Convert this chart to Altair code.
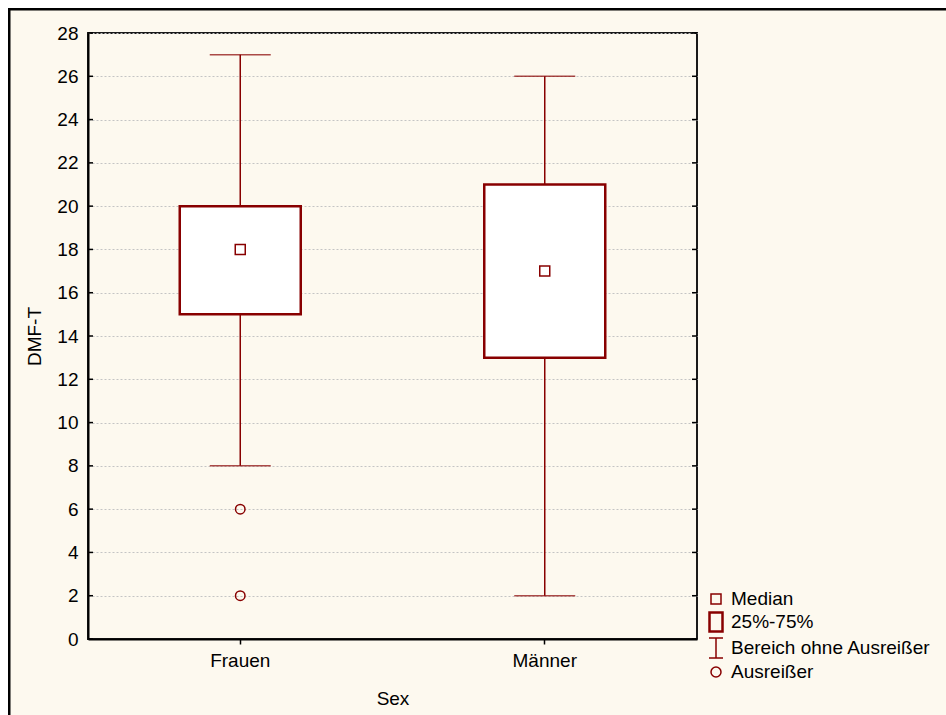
import altair as alt
import pandas as pd

# Box-plot summary per group
groups = ["Frauen", "Männer"]
whisker_low = [8, 2]
quartile_1 = [15, 13]
medians = [18, 17]
quartile_3 = [20, 21]
whisker_high = [27, 26]

# Outliers
outlier_group = ["Frauen", "Frauen"]
outlier_values = [6, 2]

# Axis ticks and legend entries
y_ticks = [0, 2, 4, 6, 8, 10, 12, 14, 16, 18, 20, 22, 24, 26, 28]
legend_labels = ["Median", "25%-75%", "Bereich ohne Ausreißer", "Ausreißer"]

RED = "#880000"
FONT = "Liberation Sans"
FS = 19
CREAM = "#FDF9EF"
W, H = 609, 606
PAD_L, PAD_T = 88, 33

stats = pd.DataFrame({
    "Sex": groups,
    "lo": whisker_low,
    "q1": quartile_1,
    "med": medians,
    "q3": quartile_3,
    "hi": whisker_high,
})
outliers = pd.DataFrame({"Sex": outlier_group, "v": outlier_values})
ticks = pd.DataFrame({"t": y_ticks})
legend_df = pd.DataFrame({"label": legend_labels})
one = pd.DataFrame({"k": [0]})

y_scale = alt.Scale(domain=[0, 28], nice=False, zero=False)
y_axis = alt.Axis(
    values=y_ticks, grid=True, gridColor="#c4c4c4", gridDash=[2, 2], gridWidth=1,
    ticks=False, domain=True, domainColor="black", domainWidth=2,
    labelFont=FONT, labelFontSize=FS, labelColor="black", labelPadding=10,
    titleFont=FONT, titleFontSize=FS, titleFontWeight="normal", titleColor="black",
    titlePadding=12,
)
x_scale = alt.Scale(domain=groups, paddingInner=0, paddingOuter=0)
x_axis = alt.Axis(
    labelAngle=0, ticks=True, tickSize=5, tickColor="black", tickWidth=1.5,
    domain=True, domainColor="black", domainWidth=2,
    labelFont=FONT, labelFontSize=FS, labelColor="black", labelPadding=7,
    titleFont=FONT, titleFontSize=FS, titleFontWeight="normal", titleColor="black",
    titlePadding=19,
)


def xe(field="Sex"):
    return alt.X(f"{field}:N", sort=groups, scale=x_scale, axis=x_axis, title="Sex")


def ye(field):
    return alt.Y(f"{field}:Q", scale=y_scale, axis=y_axis, title="DMF-T")


# Page frame: white margin strips and black border around the cream panel
frame_white_top = alt.Chart(one).mark_rect(fill="white", strokeWidth=0).encode(
    x=alt.value(-PAD_L - 20), x2=alt.value(2000),
    y=alt.value(-PAD_T - 20), y2=alt.value(9.25 - PAD_T),
)
frame_white_left = alt.Chart(one).mark_rect(fill="white", strokeWidth=0).encode(
    x=alt.value(-PAD_L - 20), x2=alt.value(9.25 - PAD_L),
    y=alt.value(-PAD_T - 20), y2=alt.value(2000),
)
frame_border = alt.Chart(one).mark_rect(fill="transparent", stroke="black", strokeWidth=2.5).encode(
    x=alt.value(9.25 - PAD_L), x2=alt.value(2000),
    y=alt.value(9.25 - PAD_T), y2=alt.value(2000),
)

whiskers = alt.Chart(stats).mark_rule(color=RED, strokeWidth=1.5).encode(
    x=xe(), y=ye("lo"), y2="hi:Q",
)
caps_low = alt.Chart(stats).mark_tick(color=RED, size=61, thickness=1.5, orient="horizontal").encode(
    x=xe(), y=ye("lo"),
)
caps_high = alt.Chart(stats).mark_tick(color=RED, size=61, thickness=1.5, orient="horizontal").encode(
    x=xe(), y=ye("hi"),
)
boxes = alt.Chart(stats).mark_bar(size=121, fill="white", stroke=RED, strokeWidth=2.5).encode(
    x=xe(), y=ye("q1"), y2="q3:Q",
)
median_pts = alt.Chart(stats).mark_point(shape="square", size=100, filled=False, color=RED,
                                          strokeWidth=1.5, opacity=1).encode(
    x=xe(), y=ye("med"),
)
outlier_pts = alt.Chart(outliers).mark_point(shape="circle", size=90, filled=False, color=RED,
                                              strokeWidth=1.5, opacity=1).encode(
    x=xe(), y=ye("v"),
)

# Inward ticks on the left and right frame edges
ticks_left = alt.Chart(ticks).mark_rule(color="black", strokeWidth=1.5).encode(
    y=ye("t"), x=alt.value(0), x2=alt.value(5),
)
ticks_right = alt.Chart(ticks).mark_rule(color="black", strokeWidth=1.5).encode(
    y=ye("t"), x=alt.value(W - 5), x2=alt.value(W),
)

# Legend symbols as custom paths in unit space
legend_paths = [
    "M-0.5,-0.5H0.5V0.5H-0.5Z",
    "M-0.7,-1H0.7V1H-0.7Z M-0.6,-0.9H0.6V0.9H-0.6Z",
    "M-0.7,-1H0.7 M0,-1V1 M-0.7,1H0.7",
    "M0.5,0A0.5,0.5 0 1,1 -0.5,0A0.5,0.5 0 1,1 0.5,0Z",
]
legend_layer = alt.Chart(legend_df).mark_point(opacity=0, filled=False).encode(
    shape=alt.Shape(
        "label:N",
        scale=alt.Scale(domain=legend_labels, range=legend_paths),
        legend=alt.Legend(
            title=None, orient="none", legendX=617, legendY=555, padding=0,
            labelFont=FONT, labelFontSize=FS, labelColor="black", labelLimit=400,
            labelOffset=4, rowPadding=0, symbolSize=400, symbolOpacity=1,
            symbolStrokeColor=RED, symbolFillColor="transparent", symbolStrokeWidth=1.5,
        ),
    ),
)

chart = alt.layer(
    frame_white_top, frame_white_left, frame_border,
    whiskers, caps_low, caps_high, boxes, median_pts, outlier_pts,
    ticks_left, ticks_right, legend_layer,
).properties(
    width=W, height=H,
    background=CREAM,
    padding={"left": PAD_L, "top": PAD_T, "right": 946 - PAD_L - W, "bottom": 715 - PAD_T - H},
    autosize=alt.AutoSizeParams(type="none"),
).configure_view(
    fill="white", stroke="#1a1a1a", strokeWidth=2,
)

chart.save("out.html", embed_options={"renderer": "svg", "actions": False})
